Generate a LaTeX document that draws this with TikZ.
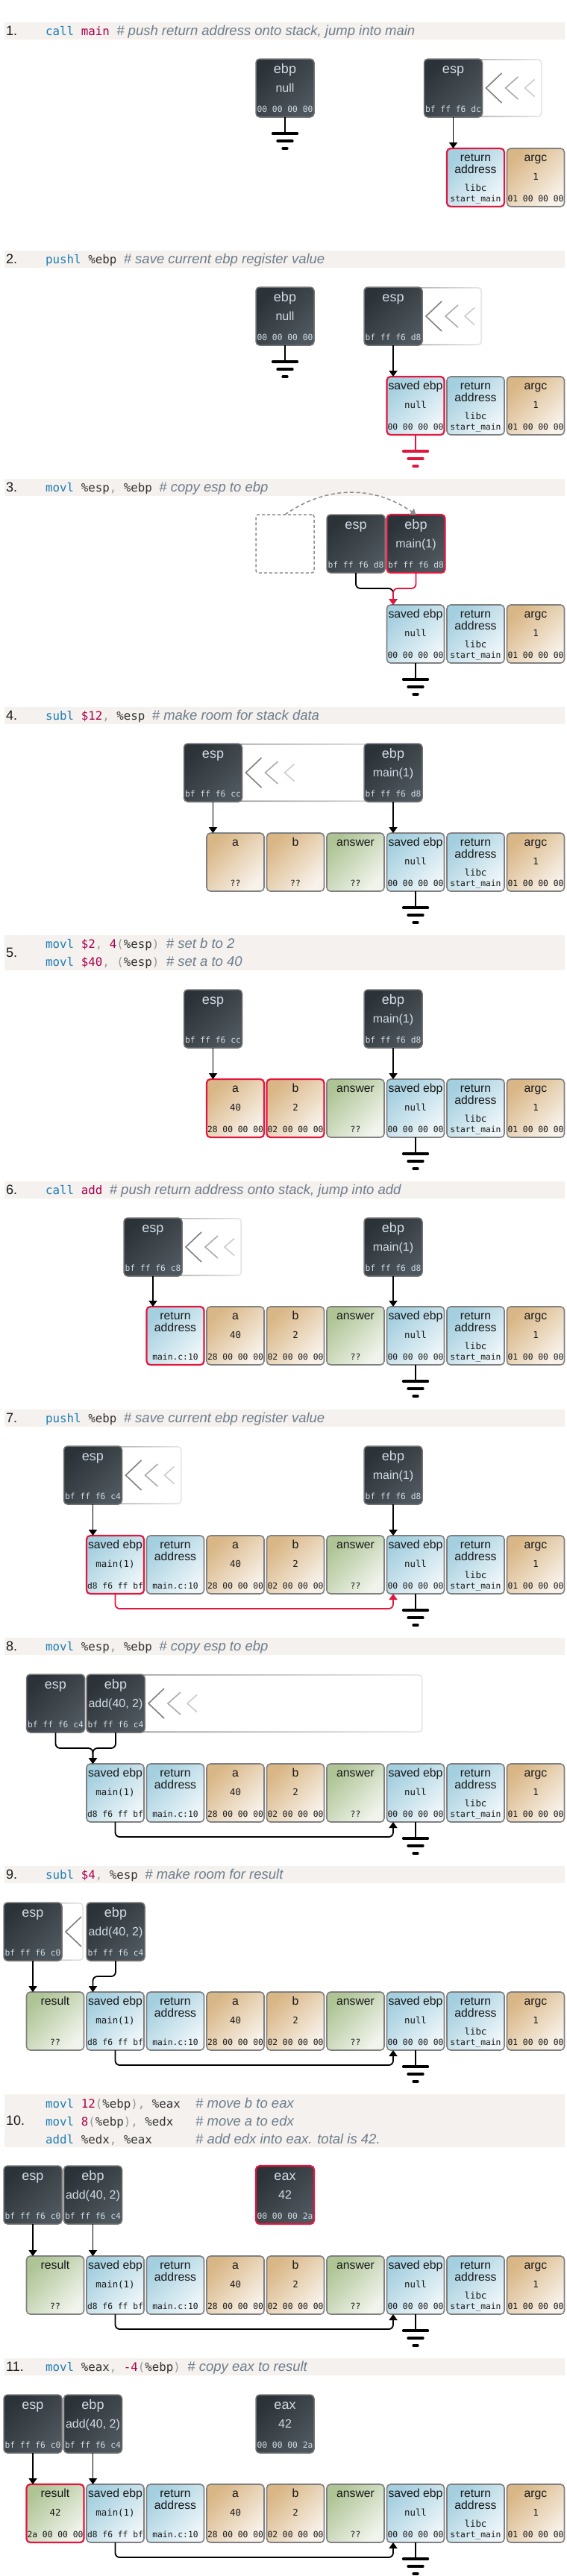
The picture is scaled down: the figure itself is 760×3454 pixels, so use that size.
\documentclass[tikz,border=0pt]{standalone}
\usepackage{fontspec}
\setmainfont{Liberation Sans}
\setsansfont{Liberation Sans}
\setmonofont{DejaVu Sans Mono}
\usetikzlibrary{arrows.meta}

\definecolor{hdrbg}{HTML}{F4F1EE}
\definecolor{kwblue}{HTML}{1F7DB5}
\definecolor{numred}{HTML}{A8004C}
\definecolor{punct}{HTML}{9A9A9A}
\definecolor{cmgray}{HTML}{6E7D8C}
\definecolor{regtxt}{HTML}{333333}
\definecolor{tanD}{HTML}{D9B685}
\definecolor{tanL}{HTML}{F8F2EA}
\definecolor{blueD}{HTML}{A4CFDF}
\definecolor{blueL}{HTML}{EEF6F9}
\definecolor{greenD}{HTML}{AEC495}
\definecolor{greenL}{HTML}{F1F4EC}
\definecolor{regD}{HTML}{2C3338}
\definecolor{regL}{HTML}{4E575D}
\definecolor{regfg}{HTML}{D2DBE3}
\definecolor{hlred}{HTML}{E2173F}

\newcommand{\kw}[1]{\textcolor{kwblue}{#1}}
\newcommand{\nm}[1]{\textcolor{numred}{#1}}
\newcommand{\pu}[1]{\textcolor{punct}{#1}}
\newcommand{\cm}[1]{{\rmfamily\itshape\fontsize{18.5}{20}\selectfont\color{cmgray}#1}}
\newcommand{\twoline}[2]{\begin{tabular}[t]{@{}c@{}}#1\\#2\end{tabular}}

\newcommand{\stephead}[3]{%
  \fill[hdrbg] (6,#1) rectangle (757,#1+#2);
  \node[stepno] (n#3) at (8,{#1+#2/2+5.5}) {#3.};
}

\newcommand{\stackcell}[8][42.5]{%
  \node[stackbox,#5] (#2) at ({74+80.5*#3},{#4+39}) {};
  \node[celllbl] (#2l) at ([yshift=-17.5pt]#2.north) {#6};
  \node[cellval] (#2v) at ([yshift=-#1pt]#2.north) {#7};
  \node[cellhex] (#2h) at ([yshift=-71pt]#2.north) {#8};
}

\newcommand{\cpureg}[7]{%
  \node[regbox,#4] (#1) at ({#2+39},{#3+39}) {};
  \node[regname] (#1l) at ([yshift=-19pt]#1.north) {#5};
  \node[regval] (#1v) at ([yshift=-44pt]#1.north) {#6};
  \node[reghex] (#1h) at ([yshift=-71.5pt]#1.north) {#7};
}

\newcommand{\regtrail}[4]{%
  \shade[left color=black!45, right color=black!10, rounded corners=5pt] (#1,#3) rectangle (#2,#3+78);
  \begin{scope}
    \fill[white, rounded corners=4pt] (#1+1.6,#3+1.6) rectangle (#2-1.6,#3+76.4);
    \clip (#1+1.6,#3+1.6) rectangle (#2-1.6,#3+76.4);
    \draw[chev, black!50] (#4+26,#3+19) -- (#4+5,#3+39) -- (#4+26,#3+59);
    \draw[chev, black!33] (#4+48,#3+24) -- (#4+31,#3+39) -- (#4+48,#3+54);
    \draw[chev, black!20] (#4+70,#3+27.5) -- (#4+57,#3+39) -- (#4+70,#3+50.5);
  \end{scope}
}

\newcommand{\groundmark}[2]{%
  \draw[earthline,#2] (#1) -- ++(0,22);
  \draw[earthbar,#2] ([xshift=-16.5pt,yshift=-22pt]#1) -- ++(33,0);
  \draw[earthbar,#2] ([xshift=-10pt,yshift=-32pt]#1) -- ++(20,0);
  \draw[earthbar,#2] ([xshift=-3pt,yshift=-42pt]#1) -- ++(6,0);
}

\begin{document}
\begin{tikzpicture}[x=1pt, y=-1pt]

\tikzstyle{stackbox} = [draw=black!50, line width=1.6pt, rounded corners=5pt, minimum width=77pt, minimum height=78pt, inner sep=0pt, outer sep=0pt]
\tikzstyle{tancell} = [top color=tanD, bottom color=tanL, shading angle=45]
\tikzstyle{bluecell} = [top color=blueD, bottom color=blueL, shading angle=45]
\tikzstyle{greencell} = [top color=greenD, bottom color=greenL, shading angle=45]
\tikzstyle{regbox} = [draw=black!55, line width=1.5pt, rounded corners=5pt, top color=regD, bottom color=regL, shading angle=45, minimum width=78pt, minimum height=78pt, inner sep=0pt, outer sep=0pt]
\tikzstyle{hot} = [draw=hlred, line width=2.2pt]
\tikzstyle{celllbl} = [anchor=base, inner sep=0pt, font=\fontsize{15.8}{16}\selectfont, text=black!90]
\tikzstyle{cellval} = [anchor=base, inner sep=0pt, font=\ttfamily\fontsize{12.4}{14}\selectfont, text=black!90]
\tikzstyle{cellhex} = [anchor=base, inner sep=0pt, font=\ttfamily\fontsize{11.3}{13}\selectfont, text=black!90]
\tikzstyle{regname} = [anchor=base, inner sep=0pt, font=\fontsize{18}{20}\selectfont, text=regfg]
\tikzstyle{regval} = [anchor=base, inner sep=0pt, font=\fontsize{16}{18}\selectfont, text=regfg]
\tikzstyle{reghex} = [anchor=base, inner sep=0pt, font=\ttfamily\fontsize{11.3}{13}\selectfont, text=regfg]
\tikzstyle{ptr} = [line width=1.8pt, rounded corners=6pt, -{Triangle[width=11pt,length=8pt]}]
\tikzstyle{chev} = [line width=1.6pt]
\tikzstyle{earthline} = [line width=1.8pt]
\tikzstyle{earthbar} = [line width=3.2pt, line cap=round]
\tikzstyle{asm} = [anchor=base west, inner sep=0pt, font=\ttfamily\fontsize{15.8}{18}\selectfont, text=regtxt]
\tikzstyle{asmnote} = [anchor=base west, inner sep=0pt, font=\itshape\fontsize{18.5}{20}\selectfont, text=cmgray]
\tikzstyle{stepno} = [anchor=base west, inner sep=0pt, font=\fontsize{18}{20}\selectfont, text=black!90]
\tikzstyle{oldpos} = [draw=black!45, line width=1.5pt, dash pattern=on 4pt off 3pt, rounded corners=3pt, minimum width=78pt, minimum height=78pt, inner sep=0pt, outer sep=0pt]
\tikzstyle{copyline} = [draw=black!45, line width=1.5pt, dash pattern=on 5pt off 3.5pt, -{Triangle[width=10pt,length=7pt]}]

\useasboundingbox (0,0) rectangle (760,3454);

\stephead{30}{23}{1}
\node[asm] (c1) at (61,47) {\kw{call} \nm{main} \cm{\# push return address onto stack, jump into main}};
\cpureg{s1ebp}{343}{79}{}{ebp}{null}{00 00 00 00}
\regtrail{568.5}{726.5}{79}{646.5}
\cpureg{s1esp}{568.5}{79}{}{esp}{}{bf ff f6 dc}
\stackcell[57.5]{s1ret}{7}{199}{bluecell,hot}{\twoline{return}{address}}{libc}{start\_main}
\stackcell{s1argc}{8}{199}{tancell}{argc}{1}{01 00 00 00}
\draw[ptr] (s1esp.south) -- ([xshift=8.5pt]s1ret.north west);
\groundmark{s1ebp.south}{black}

\stephead{336}{23}{2}
\node[asm] (c2) at (61,353) {\kw{pushl} \%ebp \cm{\# save current ebp register value}};
\cpureg{s2ebp}{343}{385}{}{ebp}{null}{00 00 00 00}
\regtrail{488}{646}{385}{566}
\cpureg{s2esp}{488}{385}{}{esp}{}{bf ff f6 d8}
\stackcell{s2save}{6}{505}{bluecell,hot}{saved ebp}{null}{00 00 00 00}
\stackcell[57.5]{s2ret}{7}{505}{bluecell}{\twoline{return}{address}}{libc}{start\_main}
\stackcell{s2argc}{8}{505}{tancell}{argc}{1}{01 00 00 00}
\draw[ptr] (s2esp.south) -- ([xshift=8.5pt]s2save.north west);
\groundmark{s2ebp.south}{black}
\groundmark{s2save.south}{hlred}

\stephead{642}{23}{3}
\node[asm] (c3) at (61,659) {\kw{movl} \%esp\pu{,} \%ebp \cm{\# copy esp to ebp}};
\node[oldpos] (s3old) at (382,729) {};
\cpureg{s3esp}{438}{690}{}{esp}{}{bf ff f6 d8}
\cpureg{s3ebp}{518.5}{690}{hot}{ebp}{main(1)}{bf ff f6 d8}
\stackcell{s3save}{6}{811}{bluecell}{saved ebp}{null}{00 00 00 00}
\stackcell[57.5]{s3ret}{7}{811}{bluecell}{\twoline{return}{address}}{libc}{start\_main}
\stackcell{s3argc}{8}{811}{tancell}{argc}{1}{01 00 00 00}
\draw[copyline] (s3old.north) to[out=35,in=145] (s3ebp.north);
\draw[ptr] (s3esp.south) -- ++(0,21) -| ([xshift=8.5pt]s3save.north west);
\draw[ptr, hlred] (s3ebp.south) -- ++(0,21) -| ([xshift=8.5pt]s3save.north west);
\groundmark{s3save.south}{black}

\stephead{948}{23}{4}
\node[asm] (c4) at (61,965) {\kw{subl} \nm{\$12}\pu{,} \%esp \cm{\# make room for stack data}};
\regtrail{246.5}{566}{997}{324.5}
\cpureg{s4esp}{246.5}{997}{}{esp}{}{bf ff f6 cc}
\cpureg{s4ebp}{488}{997}{}{ebp}{main(1)}{bf ff f6 d8}
\stackcell{s4a}{3}{1117}{tancell}{a}{}{??}
\stackcell{s4b}{4}{1117}{tancell}{b}{}{??}
\stackcell{s4ans}{5}{1117}{greencell}{answer}{}{??}
\stackcell{s4save}{6}{1117}{bluecell}{saved ebp}{null}{00 00 00 00}
\stackcell[57.5]{s4ret}{7}{1117}{bluecell}{\twoline{return}{address}}{libc}{start\_main}
\stackcell{s4argc}{8}{1117}{tancell}{argc}{1}{01 00 00 00}
\draw[ptr] (s4esp.south) -- ([xshift=8.5pt]s4a.north west);
\draw[ptr] (s4ebp.south) -- ([xshift=8.5pt]s4save.north west);
\groundmark{s4save.south}{black}

\stephead{1254}{47}{5}
\node[asm] (c5a) at (61,1271.5) {\kw{movl} \nm{\$2}\pu{,} \nm{4}\pu{(}\%esp\pu{)} \cm{\# set b to 2}};
\node[asm] (c5b) at (61,1295.5) {\kw{movl} \nm{\$40}\pu{,} \pu{(}\%esp\pu{)} \cm{\# set a to 40}};
\cpureg{s5esp}{246.5}{1327}{}{esp}{}{bf ff f6 cc}
\cpureg{s5ebp}{488}{1327}{}{ebp}{main(1)}{bf ff f6 d8}
\stackcell{s5a}{3}{1447}{tancell,hot}{a}{40}{28 00 00 00}
\stackcell{s5b}{4}{1447}{tancell,hot}{b}{2}{02 00 00 00}
\stackcell{s5ans}{5}{1447}{greencell}{answer}{}{??}
\stackcell{s5save}{6}{1447}{bluecell}{saved ebp}{null}{00 00 00 00}
\stackcell[57.5]{s5ret}{7}{1447}{bluecell}{\twoline{return}{address}}{libc}{start\_main}
\stackcell{s5argc}{8}{1447}{tancell}{argc}{1}{01 00 00 00}
\draw[ptr] (s5esp.south) -- ([xshift=8.5pt]s5a.north west);
\draw[ptr] (s5ebp.south) -- ([xshift=8.5pt]s5save.north west);
\groundmark{s5save.south}{black}

\stephead{1584}{23}{6}
\node[asm] (c6) at (61,1601) {\kw{call} \nm{add} \cm{\# push return address onto stack, jump into add}};
\regtrail{166}{324}{1633}{244}
\cpureg{s6esp}{166}{1633}{}{esp}{}{bf ff f6 c8}
\cpureg{s6ebp}{488}{1633}{}{ebp}{main(1)}{bf ff f6 d8}
\stackcell{s6ret2}{2}{1752}{bluecell,hot}{\twoline{return}{address}}{}{main.c:10}
\stackcell{s6a}{3}{1752}{tancell}{a}{40}{28 00 00 00}
\stackcell{s6b}{4}{1752}{tancell}{b}{2}{02 00 00 00}
\stackcell{s6ans}{5}{1752}{greencell}{answer}{}{??}
\stackcell{s6save}{6}{1752}{bluecell}{saved ebp}{null}{00 00 00 00}
\stackcell[57.5]{s6ret}{7}{1752}{bluecell}{\twoline{return}{address}}{libc}{start\_main}
\stackcell{s6argc}{8}{1752}{tancell}{argc}{1}{01 00 00 00}
\draw[ptr] (s6esp.south) -- ([xshift=8.5pt]s6ret2.north west);
\draw[ptr] (s6ebp.south) -- ([xshift=8.5pt]s6save.north west);
\groundmark{s6save.south}{black}

\stephead{1890}{23}{7}
\node[asm] (c7) at (61,1907) {\kw{pushl} \%ebp \cm{\# save current ebp register value}};
\regtrail{85.5}{243.5}{1939}{163.5}
\cpureg{s7esp}{85.5}{1939}{}{esp}{}{bf ff f6 c4}
\cpureg{s7ebp}{488}{1939}{}{ebp}{main(1)}{bf ff f6 d8}
\stackcell{s7save2}{1}{2059}{bluecell,hot}{saved ebp}{main(1)}{d8 f6 ff bf}
\stackcell{s7ret2}{2}{2059}{bluecell}{\twoline{return}{address}}{}{main.c:10}
\stackcell{s7a}{3}{2059}{tancell}{a}{40}{28 00 00 00}
\stackcell{s7b}{4}{2059}{tancell}{b}{2}{02 00 00 00}
\stackcell{s7ans}{5}{2059}{greencell}{answer}{}{??}
\stackcell{s7save}{6}{2059}{bluecell}{saved ebp}{null}{00 00 00 00}
\stackcell[57.5]{s7ret}{7}{2059}{bluecell}{\twoline{return}{address}}{libc}{start\_main}
\stackcell{s7argc}{8}{2059}{tancell}{argc}{1}{01 00 00 00}
\draw[ptr] (s7esp.south) -- ([xshift=8.5pt]s7save2.north west);
\draw[ptr] (s7ebp.south) -- ([xshift=8.5pt]s7save.north west);
\draw[ptr, hlred] (s7save2.south) -- ++(0,20) -| ([xshift=8.5pt]s7save.south west);
\groundmark{s7save.south}{black}

\stephead{2196}{23}{8}
\node[asm] (c8) at (61,2213) {\kw{movl} \%esp\pu{,} \%ebp \cm{\# copy esp to ebp}};
\regtrail{116}{566.5}{2245}{194}
\cpureg{s8esp}{35.5}{2245}{}{esp}{}{bf ff f6 c4}
\cpureg{s8ebp}{116}{2245}{}{ebp}{add(40, 2)}{bf ff f6 c4}
\stackcell{s8save2}{1}{2365}{bluecell}{saved ebp}{main(1)}{d8 f6 ff bf}
\stackcell{s8ret2}{2}{2365}{bluecell}{\twoline{return}{address}}{}{main.c:10}
\stackcell{s8a}{3}{2365}{tancell}{a}{40}{28 00 00 00}
\stackcell{s8b}{4}{2365}{tancell}{b}{2}{02 00 00 00}
\stackcell{s8ans}{5}{2365}{greencell}{answer}{}{??}
\stackcell{s8save}{6}{2365}{bluecell}{saved ebp}{null}{00 00 00 00}
\stackcell[57.5]{s8ret}{7}{2365}{bluecell}{\twoline{return}{address}}{libc}{start\_main}
\stackcell{s8argc}{8}{2365}{tancell}{argc}{1}{01 00 00 00}
\draw[ptr] (s8esp.south) -- ++(0,21) -| ([xshift=8.5pt]s8save2.north west);
\draw[ptr] (s8ebp.south) -- ++(0,21) -| ([xshift=8.5pt]s8save2.north west);
\draw[ptr] (s8save2.south) -- ++(0,20) -| ([xshift=8.5pt]s8save.south west);
\groundmark{s8save.south}{black}

\stephead{2502}{23}{9}
\node[asm] (c9) at (61,2519) {\kw{subl} \nm{\$4}\pu{,} \%esp \cm{\# make room for result}};
\regtrail{5}{112}{2551}{83}
\cpureg{s9esp}{5}{2551}{}{esp}{}{bf ff f6 c0}
\cpureg{s9ebp}{116}{2551}{}{ebp}{add(40, 2)}{bf ff f6 c4}
\stackcell{s9res}{0}{2671}{greencell}{result}{}{??}
\stackcell{s9save2}{1}{2671}{bluecell}{saved ebp}{main(1)}{d8 f6 ff bf}
\stackcell{s9ret2}{2}{2671}{bluecell}{\twoline{return}{address}}{}{main.c:10}
\stackcell{s9a}{3}{2671}{tancell}{a}{40}{28 00 00 00}
\stackcell{s9b}{4}{2671}{tancell}{b}{2}{02 00 00 00}
\stackcell{s9ans}{5}{2671}{greencell}{answer}{}{??}
\stackcell{s9save}{6}{2671}{bluecell}{saved ebp}{null}{00 00 00 00}
\stackcell[57.5]{s9ret}{7}{2671}{bluecell}{\twoline{return}{address}}{libc}{start\_main}
\stackcell{s9argc}{8}{2671}{tancell}{argc}{1}{01 00 00 00}
\draw[ptr] (s9esp.south) -- ([xshift=8.5pt]s9res.north west);
\draw[ptr] (s9ebp.south) -- ++(0,21) -| ([xshift=8.5pt]s9save2.north west);
\draw[ptr] (s9save2.south) -- ++(0,20) -| ([xshift=8.5pt]s9save.south west);
\groundmark{s9save.south}{black}

\stephead{2808}{71}{10}
\node[asm] (c10a) at (61,2826) {\kw{movl} \nm{12}\pu{(}\%ebp\pu{),} \%eax};
\node[asm] (c10b) at (61,2850) {\kw{movl} \nm{8}\pu{(}\%ebp\pu{),} \%edx};
\node[asm] (c10c) at (61,2874) {\kw{addl} \%edx\pu{,} \%eax};
\node[asmnote] (m10a) at (262,2826) {\# move b to eax};
\node[asmnote] (m10b) at (262,2850) {\# move a to edx};
\node[asmnote] (m10c) at (262,2874) {\# add edx into eax. total is 42.};
\cpureg{s10esp}{5}{2904}{}{esp}{}{bf ff f6 c0}
\cpureg{s10ebp}{85.5}{2904}{}{ebp}{add(40, 2)}{bf ff f6 c4}
\cpureg{s10eax}{343}{2904}{hot}{eax}{42}{00 00 00 2a}
\stackcell{s10res}{0}{3025}{greencell}{result}{}{??}
\stackcell{s10save2}{1}{3025}{bluecell}{saved ebp}{main(1)}{d8 f6 ff bf}
\stackcell{s10ret2}{2}{3025}{bluecell}{\twoline{return}{address}}{}{main.c:10}
\stackcell{s10a}{3}{3025}{tancell}{a}{40}{28 00 00 00}
\stackcell{s10b}{4}{3025}{tancell}{b}{2}{02 00 00 00}
\stackcell{s10ans}{5}{3025}{greencell}{answer}{}{??}
\stackcell{s10save}{6}{3025}{bluecell}{saved ebp}{null}{00 00 00 00}
\stackcell[57.5]{s10ret}{7}{3025}{bluecell}{\twoline{return}{address}}{libc}{start\_main}
\stackcell{s10argc}{8}{3025}{tancell}{argc}{1}{01 00 00 00}
\draw[ptr] (s10esp.south) -- ([xshift=8.5pt]s10res.north west);
\draw[ptr] (s10ebp.south) -- ([xshift=8.5pt]s10save2.north west);
\draw[ptr] (s10save2.south) -- ++(0,20) -| ([xshift=8.5pt]s10save.south west);
\groundmark{s10save.south}{black}

\stephead{3162}{23}{11}
\node[asm] (c11) at (61,3179) {\kw{movl} \%eax\pu{,} \nm{-4}\pu{(}\%ebp\pu{)} \cm{\# copy eax to result}};
\cpureg{s11esp}{5}{3211}{}{esp}{}{bf ff f6 c0}
\cpureg{s11ebp}{85.5}{3211}{}{ebp}{add(40, 2)}{bf ff f6 c4}
\cpureg{s11eax}{343}{3211}{}{eax}{42}{00 00 00 2a}
\stackcell{s11res}{0}{3331}{greencell,hot}{result}{42}{2a 00 00 00}
\stackcell{s11save2}{1}{3331}{bluecell}{saved ebp}{main(1)}{d8 f6 ff bf}
\stackcell{s11ret2}{2}{3331}{bluecell}{\twoline{return}{address}}{}{main.c:10}
\stackcell{s11a}{3}{3331}{tancell}{a}{40}{28 00 00 00}
\stackcell{s11b}{4}{3331}{tancell}{b}{2}{02 00 00 00}
\stackcell{s11ans}{5}{3331}{greencell}{answer}{}{??}
\stackcell{s11save}{6}{3331}{bluecell}{saved ebp}{null}{00 00 00 00}
\stackcell[57.5]{s11ret}{7}{3331}{bluecell}{\twoline{return}{address}}{libc}{start\_main}
\stackcell{s11argc}{8}{3331}{tancell}{argc}{1}{01 00 00 00}
\draw[ptr] (s11esp.south) -- ([xshift=8.5pt]s11res.north west);
\draw[ptr] (s11ebp.south) -- ([xshift=8.5pt]s11save2.north west);
\draw[ptr] (s11save2.south) -- ++(0,20) -| ([xshift=8.5pt]s11save.south west);
\groundmark{s11save.south}{black}

\end{tikzpicture}
\end{document}
